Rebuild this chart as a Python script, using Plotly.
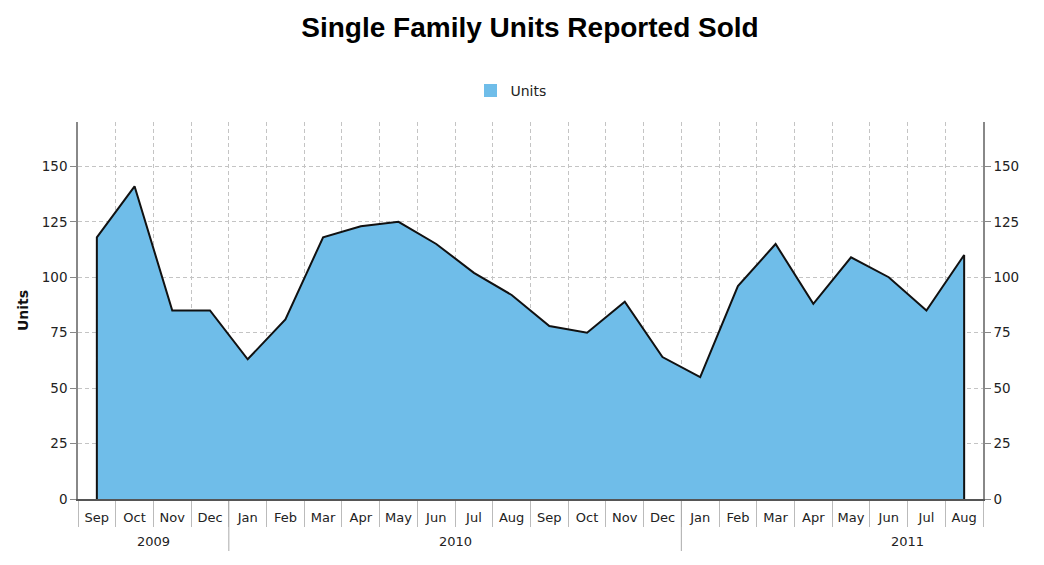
import plotly.graph_objects as go

months = ["Sep", "Oct", "Nov", "Dec", "Jan", "Feb", "Mar", "Apr", "May", "Jun", "Jul", "Aug",
          "Sep", "Oct", "Nov", "Dec", "Jan", "Feb", "Mar", "Apr", "May", "Jun", "Jul", "Aug"]
years = [2009] * 4 + [2010] * 12 + [2011] * 8
units = [118, 141, 85, 85, 63, 81, 118, 123, 125, 115, 102, 92,
         78, 75, 89, 64, 55, 96, 115, 88, 109, 100, 85, 110]
calendar = ["Jan", "Feb", "Mar", "Apr", "May", "Jun", "Jul", "Aug", "Sep", "Oct", "Nov", "Dec"]

idx = list(range(len(units)))
n = len(units)

# closed polygon so the outline includes the vertical edges at both ends
poly_x = [idx[0]] + idx + [idx[-1]]
poly_y = [0] + units + [0]

FILL = "#6fbde9"
TICKFONT = dict(family="DejaVu Sans", size=13, color="#222")
YTICKFONT = dict(family="DejaVu Sans", size=13.5, color="#222")
GRID = "#c4c4c4"

fig = go.Figure()
fig.add_trace(go.Scatter(
    x=poly_x, y=poly_y, mode="lines", fill="toself", fillcolor=FILL,
    line=dict(color="#111", width=2), name="Units", hoverinfo="skip", showlegend=False,
))
# legend entry (swatch only)
fig.add_trace(go.Scatter(
    x=[None], y=[None], mode="markers", name="Units",
    marker=dict(symbol="square", size=13, color=FILL), showlegend=True,
))
# invisible companion on the right axis so it renders
fig.add_trace(go.Scatter(
    x=idx, y=units, yaxis="y2", mode="lines", line=dict(width=0),
    opacity=0, showlegend=False, hoverinfo="skip",
))

plot_h = 565 - 122 - 66
plot_w = 1044 - 78 - 61

shapes = []
annotations = []
seen = []
for y in years:
    if y in seen:
        continue
    seen.append(y)
    first = years.index(y)
    jan_idx = first - calendar.index(months[first])
    lo = max(jan_idx, 0)
    hi = jan_idx + 11
    annotations.append(dict(
        x=(lo + hi) / 2, xref="x", y=(499 - 541) / plot_h, yref="paper",
        text=str(y), showarrow=False, font=TICKFONT, yanchor="middle",
    ))
    if first > 0:
        shapes.append(dict(
            type="line", xref="x", yref="paper", x0=first - 0.5, x1=first - 0.5,
            y0=(499 - 501) / plot_h, y1=(499 - 551) / plot_h,
            line=dict(color="#aaa", width=1),
        ))

fig.update_layout(
    width=1044, height=565,
    margin=dict(l=78, r=61, t=122, b=66, autoexpand=False),
    paper_bgcolor="white", plot_bgcolor="white",
    title=dict(text="<b>Single Family Units Reported Sold</b>", x=(530 / 1044), xanchor="center",
               y=1 - 27 / 565, yanchor="middle",
               font=dict(family="Liberation Sans", size=28, color="#000")),
    showlegend=True,
    legend=dict(orientation="h", x=(511 - 78) / plot_w, xanchor="center",
                y=(499 - 91) / plot_h, yanchor="middle",
                font=dict(family="DejaVu Sans", size=14, color="#222"),
                bgcolor="rgba(0,0,0,0)", itemwidth=30),
    xaxis=dict(
        range=[-0.5, n - 0.5], tickmode="array", tickvals=idx, ticktext=months,
        ticks="", showgrid=False, zeroline=False, automargin=False, tickangle=0,
        showline=True, linecolor="#555", linewidth=1.5,
        tickfont=TICKFONT, ticklabelstandoff=6,
        minor=dict(tick0=-0.5, dtick=1, ticks="outside", ticklen=26, tickcolor="#bbb",
                   tickwidth=1, showgrid=True, gridcolor=GRID, griddash="4px,3px",
                   gridwidth=1),
    ),
    yaxis=dict(
        range=[0, 170], tick0=0, dtick=25, ticks="outside", ticklen=6, tickcolor="#888",
        showline=True, linecolor="#888", linewidth=1.5, automargin=False,
        showgrid=True, gridcolor=GRID, griddash="4px,3px", zeroline=False,
        tickfont=YTICKFONT,
        title=dict(text="<b>Units</b>", font=dict(family="DejaVu Sans", size=14, color="#111"),
                   standoff=10),
    ),
    yaxis2=dict(
        overlaying="y", side="right", matches="y", range=[0, 170], tick0=0, dtick=25,
        ticks="outside", ticklen=6, tickcolor="#888", automargin=False,
        showline=True, linecolor="#888", linewidth=1.5, showgrid=False, zeroline=False,
        tickfont=YTICKFONT,
    ),
    shapes=shapes,
    annotations=annotations,
)

fig.write_html("out.html")
